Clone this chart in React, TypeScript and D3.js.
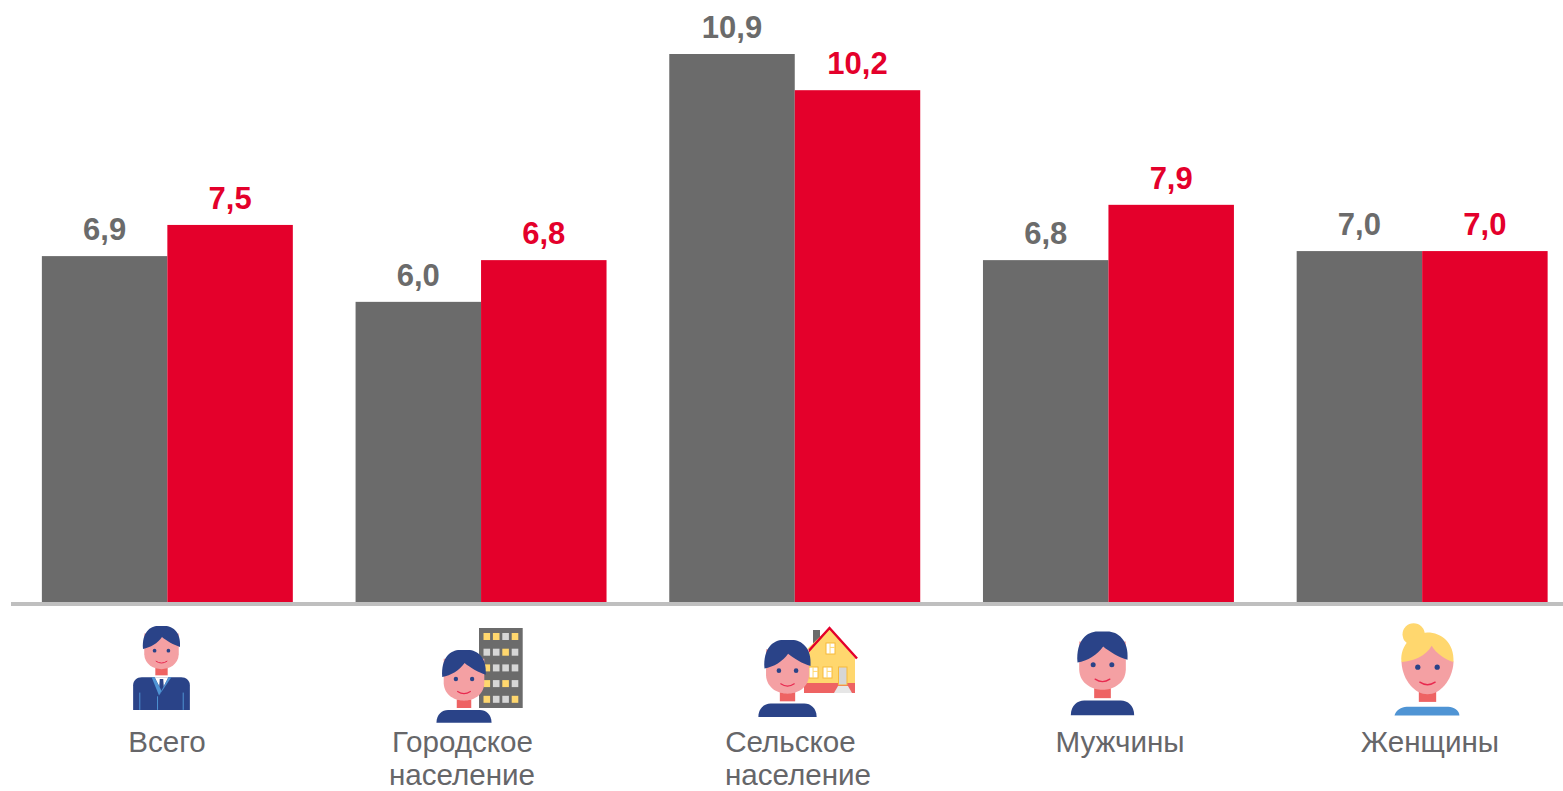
import React from "react";
import * as d3 from "d3";

const categories = ["Всего", "Городское население", "Сельское население", "Мужчины", "Женщины"];
const seriesA = [6.88, 5.97, 10.9, 6.8, 6.98];
const seriesB = [7.5, 6.8, 10.18, 7.9, 6.98];
const seriesKeys = ["a", "b"];
const labelLines = [["Всего"], ["Городское", "население"], ["Сельское", "население"], ["Мужчины"], ["Женщины"]];
const labelCenters = [[167], [462.5, 462], [790.5, 798], [1120], [1430]];

const GREY = "#6b6b6b";
const RED = "#e4002b";
const NAVY = "#2a4388";
const FACE = "#f4a0a3";
const NECK = "#ee6363";
const YEL = "#ffd76e";
const LG = "#d6d6d6";

const W = 1563, H = 791, BASE = 602;
const x0 = d3.scaleBand().domain(categories).range([10.5, 1579]).paddingInner(0.2).paddingOuter(0.1);
const x1 = d3.scaleBand().domain(seriesKeys).range([0, x0.bandwidth()]);
const y = d3.scaleLinear().domain([0, 10.9]).range([BASE, 54]);
const fmt = (v: number) => v.toFixed(1).replace(".", ",");

function Head({ hair, woman }: { hair: string; woman?: boolean }) {
  return (
    <g>
      <rect x={-25} y={170} width={50} height={30} fill={NECK} />
      {woman ? (
        <path d="M-75,85 C-72,140 -35,178 0,178 C35,178 72,140 75,85 L45,30 L-45,30 Z" fill={FACE} />
      ) : (
        <path d="M-70,30 L-70,115 C-68,158 -30,175 0,175 C30,175 68,158 70,115 L70,30 Z" fill={FACE} />
      )}
      <path
        d={woman
          ? "M-75,85 C-80,35 -40,0 0,0 C40,0 78,30 75,85 C50,78 25,60 12,38 C-5,68 -40,82 -75,85 Z"
          : "M-75,93 C-80,25 -45,0 -15,0 L15,0 C45,0 80,25 75,85 C50,78 20,60 2,45 C-15,70 -45,88 -75,93 Z"}
        fill={hair}
      />
      <circle cx={-28} cy={100} r={7.5} fill={NAVY} />
      <circle cx={28} cy={100} r={7.5} fill={NAVY} />
      <path d="M-22,143 Q0,158 22,143" fill="none" stroke="#e8294f" strokeWidth={4} strokeLinecap="round" />
    </g>
  );
}

function Shoulders({ fill }: { fill: string }) {
  return <path d="M-95,251 C-95,222 -75,207 -55,207 L55,207 C75,207 95,222 95,251 Z" fill={fill} />;
}

function Person({ cx, top, width, fill = NAVY }: { cx: number; top: number; width: number; fill?: string }) {
  const s = width / 150;
  return (
    <g transform={`translate(${cx},${top}) scale(${s})`}>
      <Head hair={NAVY} />
      <Shoulders fill={fill} />
    </g>
  );
}

function SuitIcon() {
  return (
    <g transform="translate(161.5,626) scale(0.2467)">
      <Head hair={NAVY} />
      <path d="M-115,340 L-115,240 C-115,222 -100,208 -80,208 L80,208 C100,208 115,222 115,240 L115,340 Z" fill={NAVY} />
      <path d="M-28,208 L28,208 L0,262 Z" fill="#fff" />
      <path d="M-7,215 L7,215 L10,255 L0,268 L-10,255 Z" fill={NAVY} />
      <path d="M-40,208 L-28,208 L0,262 L-10,282 Z" fill="#4f94d4" />
      <path d="M40,208 L28,208 L0,262 L-10,282 Z" fill="#4f94d4" />
      <path d="M-88,270 L-88,340 M88,270 L88,340 M-16,285 L-16,340" stroke="#4f94d4" strokeWidth={4} fill="none" />
    </g>
  );
}

const bldgWindows = ["YYGY", "GGYG", "YGGG", "YGYG", "YGGY"];

function Building() {
  return (
    <g>
      <rect x={479} y={628} width={43.7} height={80} fill={GREY} />
      {bldgWindows.map((row, r) =>
        row.split("").map((c, i) => (
          <rect key={`${r}-${i}`} x={483.5 + i * 9.4} y={633 + r * 15.7} width={6.6} height={7} fill={c === "Y" ? YEL : LG} />
        ))
      )}
    </g>
  );
}

function House() {
  const win = (x: number, y: number, w = 9, h = 11) => (
    <g key={`${x}-${y}`}>
      <rect x={x} y={y} width={w} height={h} fill="#fff" stroke="#f6b93b" strokeWidth={1} />
      <line x1={x + w * 0.45} x2={x + w * 0.45} y1={y} y2={y + h} stroke={YEL} strokeWidth={1} />
      <line x1={x + w * 0.45} x2={x + w} y1={y + h * 0.4} y2={y + h * 0.4} stroke={YEL} strokeWidth={1} />
    </g>
  );
  return (
    <g>
      <rect x={813} y={630} width={7} height={15} fill={GREY} />
      <path d="M804,652 L829,628 L855,658 L855,693 L804,693 Z" fill={YEL} />
      <rect x={804} y={683} width={51} height={10} fill={NECK} />
      <path d="M806,654 L829.5,628 L857,658.5" fill="none" stroke={RED} strokeWidth={2.5} />
      {win(826, 643)}
      {win(809, 667)}
      {win(823, 667)}
      <rect x={838.5} y={667} width={8.5} height={18} fill={LG} stroke="#f6b93b" strokeWidth={1} />
      <path d="M834,693 L838,686 L848,686 L852,693 Z" fill="#e6e6e6" />
    </g>
  );
}

export default function App() {
  const series = [
    { key: "a", values: seriesA, color: GREY },
    { key: "b", values: seriesB, color: RED },
  ];
  return (
    <svg width={W} height={H} style={{ position: "absolute", left: 0, top: 0, display: "block", background: "#fff" }}
      fontFamily="'Liberation Sans', Arial, sans-serif">
      {categories.map((c, i) => (
        <g key={c} transform={`translate(${x0(c)},0)`}>
          {series.map((s) => (
            <g key={s.key}>
              <rect x={x1(s.key)} y={y(s.values[i])} width={x1.bandwidth()} height={BASE - y(s.values[i])} fill={s.color} />
              <text x={x1(s.key)! + x1.bandwidth() / 2} y={y(s.values[i]) - 16} textAnchor="middle"
                fontSize={31} fontWeight="bold" fill={s.color}>{fmt(s.values[i])}</text>
            </g>
          ))}
        </g>
      ))}
      <rect x={11} y={602} width={1552} height={4} fill="#bfbfbf" />

      <SuitIcon />
      <Building />
      <Person cx={464} top={650} width={43.5} />
      <House />
      <Person cx={787.5} top={640} width={46} />
      <Person cx={1102.5} top={631.5} width={50} />
      <g transform="translate(1427.5,632.5) scale(0.347)">
        <circle cx={-40} cy={5} r={32} fill={YEL} />
        <Head hair={YEL} woman />
        <path d="M-95,232 C-92,218 -75,207 -60,207 L60,207 C75,207 92,218 92,232 Z" transform="translate(0,7)" fill="#4f94d4" />
      </g>

      {labelLines.map((lines, i) => (
        <text key={i} textAnchor="middle" fontSize={29.6} fill="#666669">
          {lines.map((l, j) => (
            <tspan key={l} x={labelCenters[i][j]} y={752 + j * 33}>{l}</tspan>
          ))}
        </text>
      ))}
    </svg>
  );
}
